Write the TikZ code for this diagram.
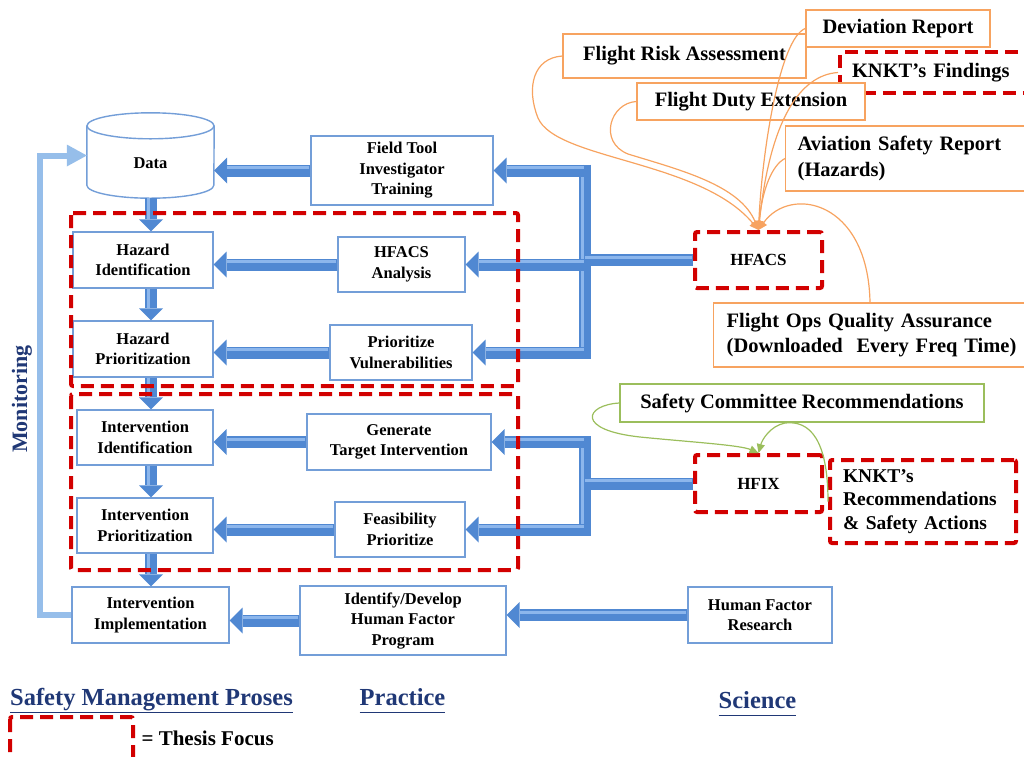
\documentclass[tikz,border=0pt]{standalone}
\usepackage{fontspec}
\setmainfont{Liberation Serif}
\usetikzlibrary{arrows.meta,calc}

\definecolor{boxblue}{RGB}{115,158,216}
\definecolor{arrowblue}{RGB}{80,136,210}
\definecolor{arrowhi}{RGB}{140,182,236}
\definecolor{monblue}{RGB}{150,190,234}
\definecolor{focusred}{RGB}{210,0,0}
\definecolor{orangeline}{RGB}{247,163,96}
\definecolor{greenline}{RGB}{155,190,92}
\definecolor{navy}{RGB}{32,56,118}

\newcommand{\headul}[1]{\underline{#1\vphantom{y}}}

\begin{document}
\begin{tikzpicture}[x=1pt,y=-1pt,
  procbox/.style={draw=boxblue, line width=1.4pt, fill=white, align=center,
    inner sep=2pt, font=\bfseries\fontsize{16.5}{20.5}\selectfont},
  srcbox/.style={draw=orangeline, line width=1.4pt, fill=white, align=center,
    inner sep=2pt, font=\bfseries\fontsize{20.5}{25.5}\selectfont},
  recbox/.style={draw=greenline, line width=1.4pt, fill=white, align=center,
    inner sep=2pt, font=\bfseries\fontsize{20.5}{25.5}\selectfont},
  focusframe/.style={draw=focusred, line width=4pt, dash pattern=on 13pt off 7pt,
    rounded corners=2pt},
  focusbox/.style={focusframe, fill=white, align=center, inner sep=2pt,
    font=\bfseries\fontsize{17}{23.5}\selectfont},
  harrow/.style={draw=arrowblue, line width=12pt,
    -{Triangle[length=13pt,width=26pt,line width=0pt]},
    postaction={draw=arrowhi, line width=3pt, -, shorten >=13pt, shorten <=1pt,
      transform canvas={yshift=3pt}}},
  varrow/.style={draw=arrowblue, line width=12pt,
    -{Triangle[length=12pt,width=24pt,line width=0pt]},
    postaction={draw=arrowhi, line width=3pt, -, shorten >=12pt,
      transform canvas={xshift=-3pt}}},
  busbar/.style={draw=arrowblue, line width=12pt},
  srccurve/.style={draw=orangeline, line width=1.2pt,
    -{Triangle[length=9pt,width=8pt]}},
  reccurve/.style={draw=greenline, line width=1.2pt,
    -{Triangle[length=9pt,width=8pt]}},
  monitor/.style={draw=monblue, line width=6pt,
    -{Triangle[length=20pt,width=22pt,line width=0pt]}},
  heading/.style={text=navy, font=\bfseries\fontsize{24.5}{28}\selectfont}
]
\useasboundingbox (0,0) rectangle (1024,756);

% ---------- process column ----------
\node[minimum width=127pt, minimum height=85pt, inner sep=0pt] (data) at (150.5,155.5) {};
\draw[draw=boxblue, line width=1.4pt, fill=white]
  ($(data.north west)+(0,13)$) -- ($(data.south west)+(0,-13)$)
  arc[start angle=180, end angle=360, x radius=63.5pt, y radius=13pt]
  -- ($(data.north east)+(0,13)$);
\draw[draw=boxblue, line width=1.4pt, fill=white]
  ($(data.north)+(0,13)$) ellipse [x radius=63.5pt, y radius=13pt];
\node[font=\bfseries\fontsize{16.5}{20.5}\selectfont] (datalabel) at ($(data.center)+(0,8)$) {Data};

\node[procbox, minimum width=140pt, minimum height=56pt] (hazid) at (143,260) {Hazard\\Identification};
\node[procbox, minimum width=140pt, minimum height=56pt] (hazpr) at (143,349) {Hazard\\Prioritization};
\node[procbox, minimum width=136pt, minimum height=55pt] (intid) at (145,437.5) {Intervention\\Identification};
\node[procbox, minimum width=136pt, minimum height=55pt] (intpr) at (145,525.5) {Intervention\\Prioritization};
\node[procbox, minimum width=157pt, minimum height=56pt] (intimp) at (150.5,615) {Intervention\\Implementation};

% ---------- practice column ----------
\node[procbox, minimum width=182pt, minimum height=69pt] (field) at (402,170.5) {Field Tool\\Investigator\\Training};
\node[procbox, minimum width=127pt, minimum height=55pt] (hfacsA) at (401.5,264.5) {HFACS\\Analysis};
\node[procbox, minimum width=142pt, minimum height=55pt] (prio) at (401,352.5) {Prioritize\\Vulnerabilities};
\node[procbox, minimum width=184pt, minimum height=56pt] (gen) at (399,442) {Generate\\Target Intervention};
\node[procbox, minimum width=130pt, minimum height=55pt] (feas) at (400,529.5) {Feasibility\\Prioritize};
\node[procbox, minimum width=206pt, minimum height=69pt] (idev) at (403,620.5) {Identify/Develop\\Human Factor\\Program};

% ---------- science column ----------
\node[procbox, minimum width=144pt, minimum height=56pt] (hfr) at (760,615) {Human Factor\\Research};
\node[focusbox, minimum width=127pt, minimum height=56pt] (hfacs) at (758.5,260) {HFACS};
\node[focusbox, minimum width=127pt, minimum height=57pt] (hfix) at (758.5,483.5) {HFIX};
\node[focusbox, minimum width=186pt, minimum height=83pt, align=left, text width=160pt,
  inner xsep=13pt, font=\bfseries\fontsize{19.5}{23.5}\selectfont] (knktrec) at (923,501.5)
  {KNKT’s\\Recommendations\\\& Safety Actions};
\node[recbox, minimum width=364pt, minimum height=38pt] (scr) at (802,403) {Safety Committee Recommendations};

% data sources
\node[srcbox, minimum width=184pt, minimum height=37pt] (dev) at (898,28.5) {Deviation Report};
\node[srcbox, minimum width=243pt, minimum height=44pt] (fra) at (684.5,56) {Flight Risk Assessment};
\node[focusbox, anchor=west, minimum height=41pt, align=left, text width=176pt, inner xsep=12pt,
  font=\bfseries\fontsize{20.5}{25.5}\selectfont] (knktf) at (838,72.5) {KNKT’s Findings};
\node[srcbox, minimum width=228pt, minimum height=37pt] (fde) at (751,101.5) {Flight Duty Extension};
\node[srcbox, anchor=west, minimum height=65pt, align=left, text width=226pt, inner xsep=12pt]
  (asr) at (785,158.5) {Aviation Safety Report\\(Hazards)};
\node[srcbox, anchor=west, minimum height=64pt, align=left, text width=294pt, inner xsep=13pt]
  (foqa) at (713,335) {Flight Ops Quality Assurance\\(Downloaded\ \ Every Freq Time)};

% ---------- flow down the process column ----------
\coordinate (col) at (151,0);
\draw[varrow] (col |- data.south) -- (col |- hazid.north);
\draw[varrow] (col |- hazid.south) -- (col |- hazpr.north);
\draw[varrow] (col |- hazpr.south) -- (col |- intid.north);
\draw[varrow] (col |- intid.south) -- (col |- intpr.north);
\draw[varrow] (col |- intpr.south) -- (col |- intimp.north);

% ---------- practice feeds process ----------
\draw[harrow] (field.west) -- (field.west -| data.east);
\draw[harrow] (hfacsA.west) -- (hfacsA.west -| hazid.east);
\draw[harrow] (prio.west) -- (prio.west -| hazpr.east);
\draw[harrow] (gen.west) -- (gen.west -| intid.east);
\draw[harrow] (feas.west) -- (feas.west -| intpr.east);
\draw[harrow] (idev.west) -- (idev.west -| intimp.east);
\draw[harrow] (hfr.west) -- (hfr.west -| idev.east);

% ---------- HFACS distribution bus ----------
\coordinate (busA) at (585,164.5);
\coordinate (busAend) at (585,358.5);
\draw[busbar] (hfacs.west) -- (busA |- hfacs.west);
\draw[busbar] (busA) -- (busAend);
\draw[arrowhi, line width=3pt] ([xshift=-3pt]busA) -- ([xshift=-3pt]busAend);
\draw[arrowhi, line width=3pt] ([xshift=-1pt,yshift=3pt]hfacs.west) -- ([yshift=3pt]busA |- hfacs.west);
\draw[harrow] (busA |- field.east) -- (field.east);
\draw[harrow] (busA |- hfacsA.east) -- (hfacsA.east);
\draw[harrow] (busA |- prio.east) -- (prio.east);

% ---------- HFIX distribution bus ----------
\coordinate (busB) at (585,436);
\coordinate (busBend) at (585,535.5);
\draw[busbar] (hfix.west) -- (busB |- hfix.west);
\draw[busbar] (busB) -- (busBend);
\draw[arrowhi, line width=3pt] ([xshift=-3pt]busB) -- ([xshift=-3pt]busBend);
\draw[arrowhi, line width=3pt] ([xshift=-1pt,yshift=3pt]hfix.west) -- ([yshift=3pt]busB |- hfix.west);
\draw[harrow] (busB |- gen.east) -- (gen.east);
\draw[harrow] (busB |- feas.east) -- (feas.east);

% ---------- monitoring loop ----------
\coordinate (monx) at (40,0);
\draw[monitor] (intimp.west) -| (monx |- data.west) -- (data.west);
\node[rotate=90, text=navy, font=\bfseries\fontsize{22}{25}\selectfont] (montext) at (22,399) {Monitoring};

% ---------- sources into HFACS ----------
\coordinate (fqstart) at ($(foqa.north west)+(157,0)$);
\draw[srccurve] (fra.west) .. controls (533,58) and (526,88) .. (538,118)
  .. controls (556,160) and (700,160) .. (hfacs.north);
\draw[srccurve] (fde.west) .. controls (610,103) and (598,142) .. (628,154)
  .. controls (680,170) and (740,185) .. (hfacs.north);
\draw[srccurve] (dev.west) .. controls (780,38) and (762,150) .. (hfacs.north);
\draw[srccurve] (knktf.west) .. controls (800,75) and (770,120) .. (hfacs.north);
\draw[srccurve] (asr.west) .. controls (772,165) and (762,190) .. (hfacs.north);
\draw[srccurve] (fqstart) .. controls (868,200) and (790,185) .. (hfacs.north);

% ---------- recommendations into HFIX ----------
\draw[reccurve] (scr.west) .. controls (585,405) and (575,430) .. (640,437)
  .. controls (690,442) and (740,445) .. (hfix.north);
\draw[reccurve] (knktrec.west) .. controls (828,440) and (810,420) .. (785,423)
  .. controls (770,426) and (762,440) .. (hfix.north);

% ---------- thesis focus frames ----------
\draw[focusframe] (71,213) rectangle (518,386);
\draw[focusframe] (71,394) rectangle (518,570);

% ---------- column headings and legend ----------
\node[heading, anchor=base] (hsmp) at (151.5,705) {\headul{Safety Management Proses}};
\node[heading, anchor=base] (hprac) at (402.5,705) {\headul{Practice}};
\node[heading, anchor=base] (hsci) at (757.5,708) {\headul{Science}};
\draw[focusframe] (10,717) rectangle (133,768);
\node[anchor=base west, font=\bfseries\fontsize{21}{24}\selectfont] (legend) at (138,745) {= Thesis Focus};
\end{tikzpicture}
\end{document}
